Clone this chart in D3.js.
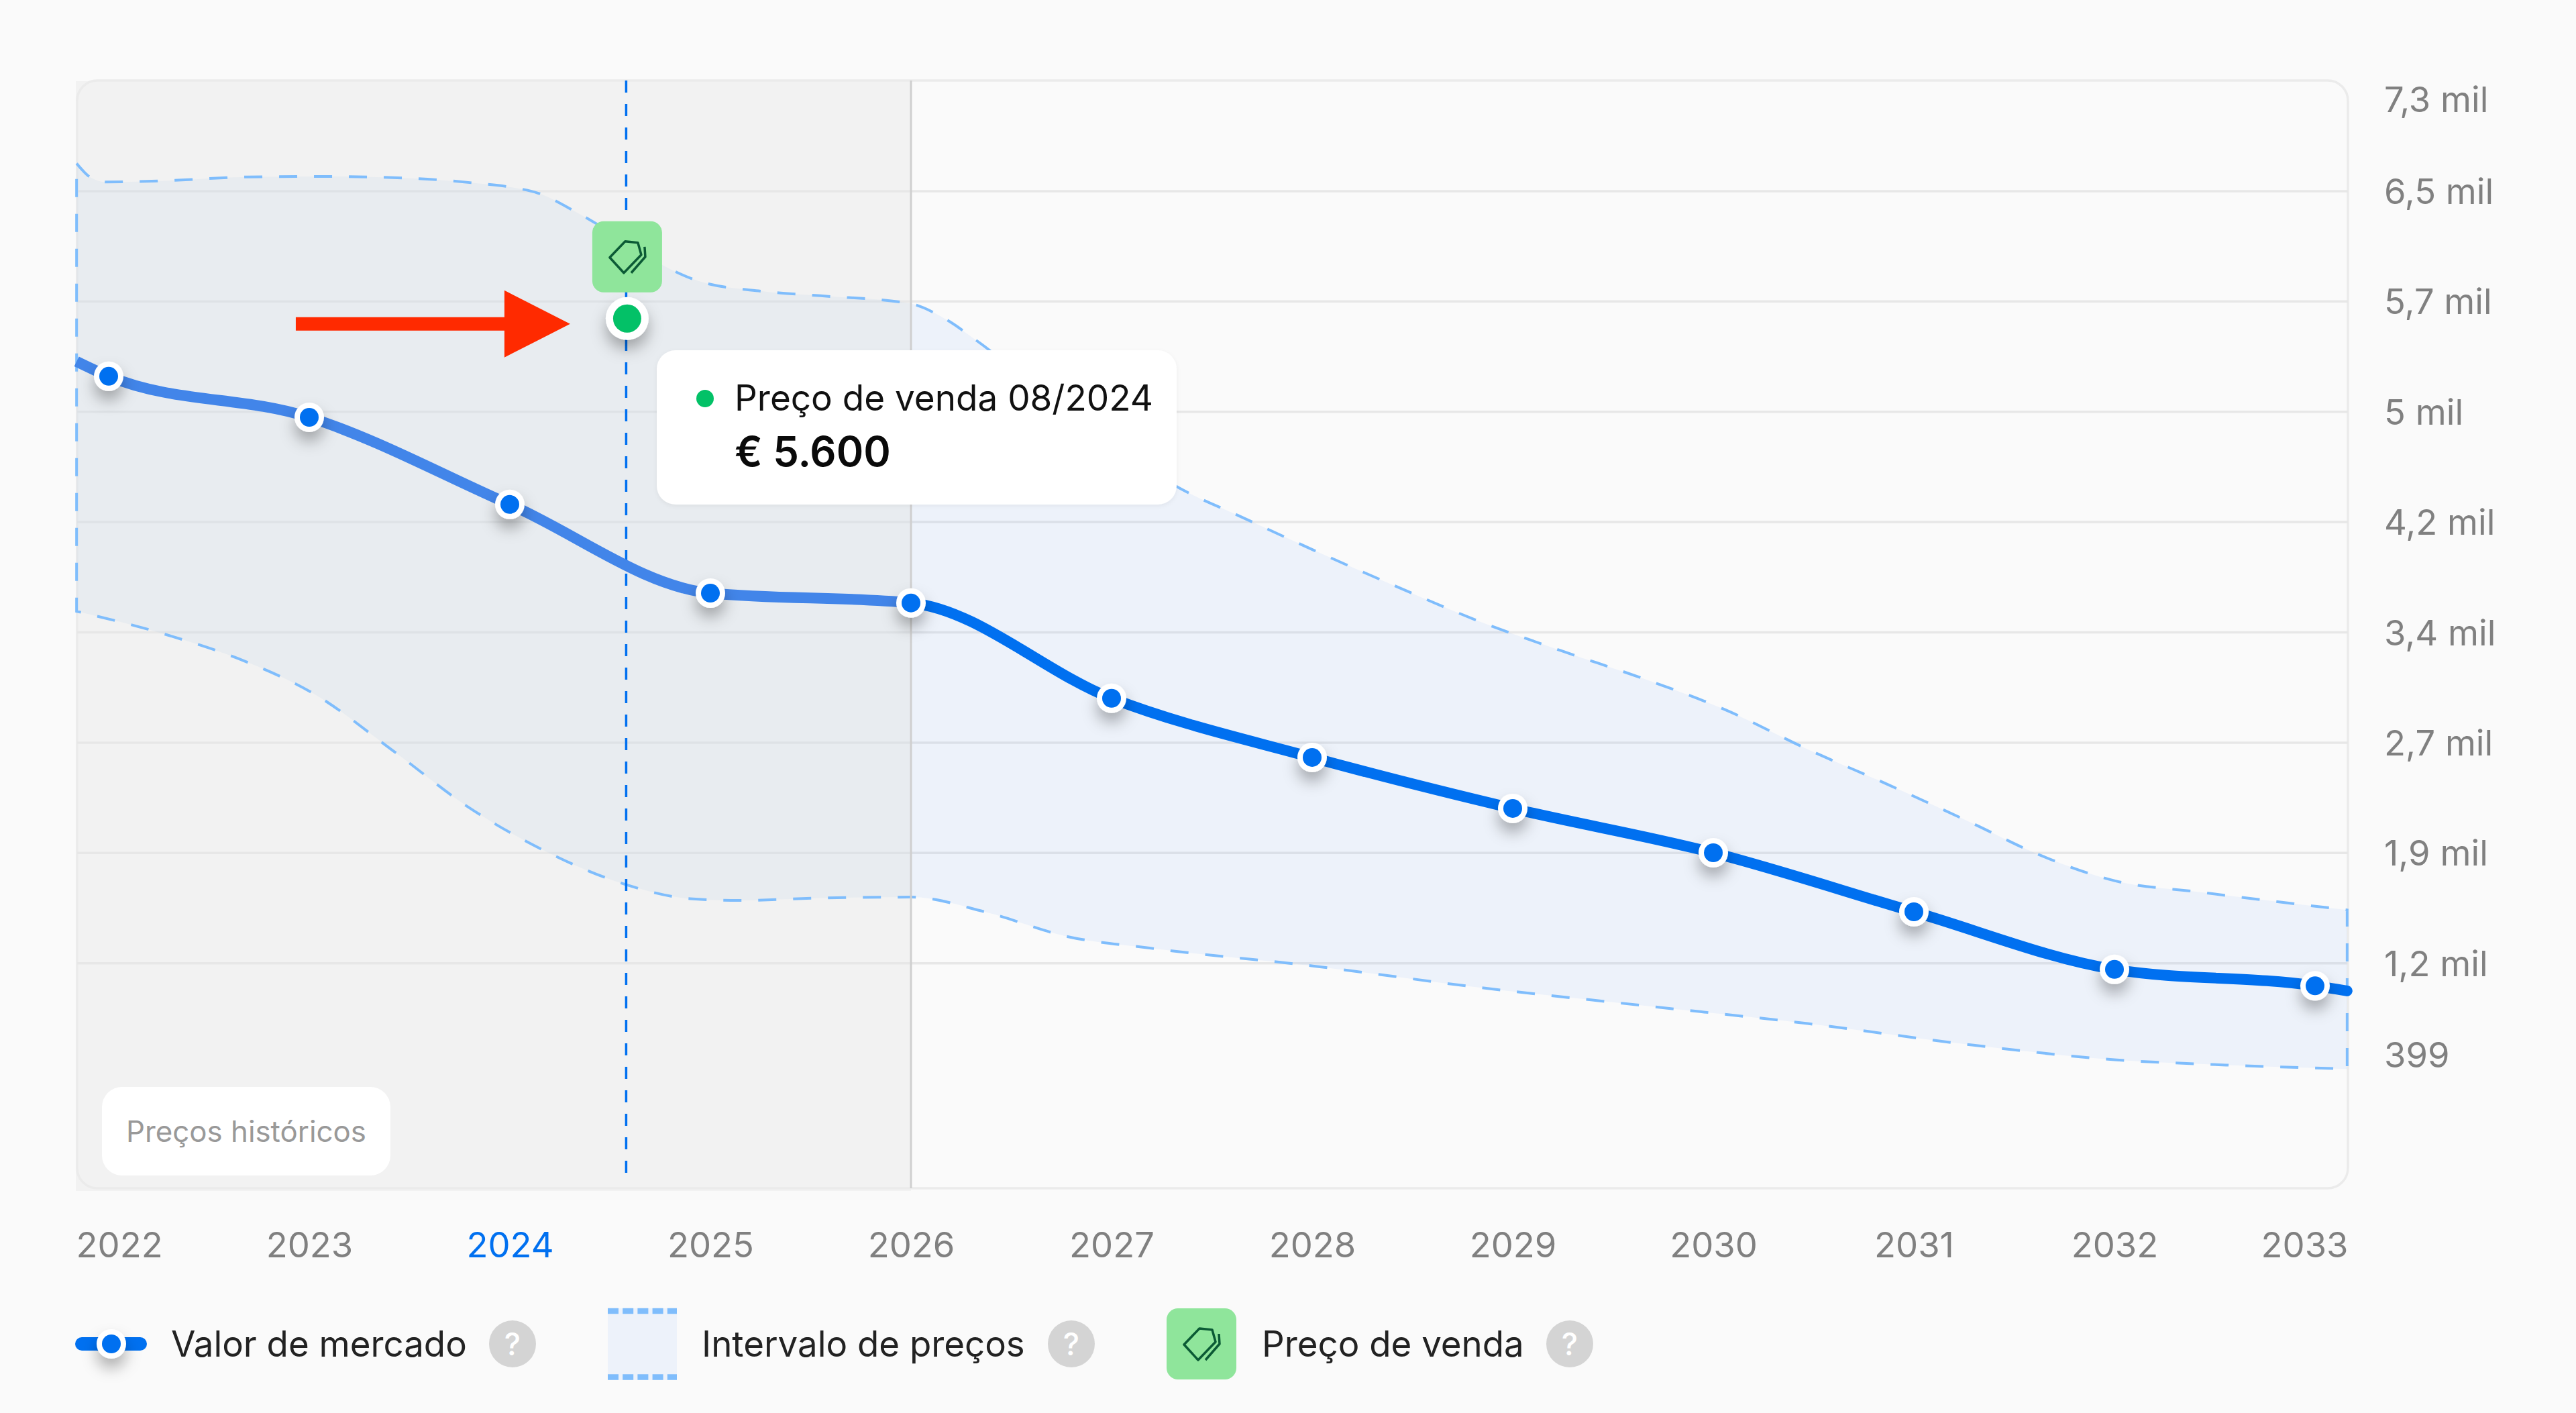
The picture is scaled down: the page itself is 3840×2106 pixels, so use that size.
<!DOCTYPE html>
<html><head><meta charset="utf-8">
<script src="https://cdn.jsdelivr.net/npm/d3@7/dist/d3.min.js"></script>
<style>
html,body{margin:0;padding:0;background:#fafafa;}
svg{display:block;font-family:Inter,"Noto Sans",sans-serif;}
</style></head><body>
<svg id="c" width="3840" height="2106" viewBox="0 0 3840 2106"></svg>
<script>
// ---- data ----
const years = [2022,2023,2024,2025,2026,2027,2028,2029,2030,2031,2032,2033];
const marketValues = [5239,4954,4349,3733,3665,3003,2592,2238,1930,1520,1120,1006];
const lineStart = [2021.84,5342];
const lineEnd = [2033.16,971];
const upperYears = [2021.84,2021.91,2021.99,2022.28,2022.69,2023.06,2023.51,2023.83,2024.01,2024.14,2024.33,2024.43,2024.59,2024.75,2024.94,2025.24,2025.55,2025.99,2026.17,2026.33,2026.78,2027.40,2027.60,2028.01,2028.42,2028.83,2029.24,2029.65,2030.06,2030.47,2030.88,2031.29,2031.62,2032.00,2032.43,2033.16];
const upperValues = [6717,6620,6588,6597,6623,6627,6614,6580,6551,6511,6380,6300,6163,6020,5901,5832,5798,5746,5638,5484,4977,4418,4292,4030,3779,3539,3334,3140,2923,2649,2398,2136,1919,1736,1656,1533];
const lowerYears = [2021.84,2022.28,2022.69,2023.02,2023.43,2023.79,2024.16,2024.57,2024.90,2025.14,2025.55,2026.00,2026.37,2026.78,2027.19,2028.01,2028.83,2029.65,2030.47,2031.29,2032.00,2032.52,2033.16];
const lowerValues = [3607,3448,3254,3037,2626,2250,1953,1713,1611,1599,1616,1622,1519,1348,1268,1143,995,869,744,595,493,458,429];
const yTicks = [399,1165,1931,2697,3463,4229,4995,5761,6527,7293];
const yLabels = ["399","1,2 mil","1,9 mil","2,7 mil","3,4 mil","4,2 mil","5 mil","5,7 mil","6,5 mil","7,3 mil"];
const highlightYear = 2024;
const historicEnd = 2026;
const saleYear = 2024.585;
const saleValue = 5640;
const tooltipTitle = "Preço de venda 08/2024";
const tooltipValue = "€ 5.600";
const historicLabel = "Preços históricos";
const legendNames = ["Valor de mercado","Intervalo de preços","Preço de venda"];

// ---- layout ----
const L=115,R=3500,T=120,B=1771;
const BLUE="#0070f0",BLUE_H="#4285e9",DASH="#7fbdfc",GREEN="#03c167",CHIP="#8fe59b",ICON="#0b5a35";
const x=d3.scaleLinear().domain([2022,2033]).range([162,3451]);
const y=d3.scaleLinear().domain([399,7293]).range([T+(7293-399)/766*164.4,T]);
const svg=d3.select("#c");
const defs=svg.append("defs");
const sh=defs.append("filter").attr("id","sh").attr("x","-150%").attr("y","-150%").attr("width","400%").attr("height","400%");
sh.append("feDropShadow").attr("dx",0).attr("dy",14).attr("stdDeviation",11).attr("flood-color","#000").attr("flood-opacity",.3);
const tsh=defs.append("filter").attr("id","tsh").attr("x","-10%").attr("y","-10%").attr("width","120%").attr("height","120%");
tsh.append("feDropShadow").attr("dx",0).attr("dy",2).attr("stdDeviation",3).attr("flood-color","#000").attr("flood-opacity",.06);
defs.append("clipPath").attr("id","hist").append("rect").attr("x",0).attr("y",0).attr("width",x(historicEnd)).attr("height",2106);
defs.append("clipPath").attr("id","fut").append("rect").attr("x",x(historicEnd)).attr("y",0).attr("width",3840).attr("height",2106);

svg.append("rect").attr("width",3840).attr("height",2106).attr("fill","#fafafa");
// historic background: the reference leaves its square corners visible behind the rounded frame
svg.append("rect").attr("x",113).attr("y",121).attr("width",x(historicEnd)-113).attr("height",1775-121).attr("fill","#f2f2f2");
svg.append("rect").attr("x",L).attr("y",T).attr("width",R-L).attr("height",B-T).attr("rx",30).attr("fill","none").attr("stroke","#ebebeb").attr("stroke-width",3.5);

// grid from the axis
const gridTicks=yTicks.slice(1,-1);
const grid=svg.append("g").attr("transform",`translate(${L},0)`).call(d3.axisRight(y).tickValues(gridTicks).tickSize(R-L).tickFormat(""));
grid.select(".domain").remove();
grid.selectAll("line").attr("stroke","#e7e7e7").attr("stroke-width",3.5);

// band
const upper=upperYears.map((t,i)=>[t,upperValues[i]]);
const lower=lowerYears.map((t,i)=>[t,lowerValues[i]]);
const edge=d3.line().x(d=>x(d[0])).y(d=>y(d[1])).curve(d3.curveMonotoneX);
const bandPath=edge(upper)+"L"+edge(lower.slice().reverse()).slice(1)+"Z";
svg.append("path").attr("d",bandPath).attr("fill","rgba(92,158,225,.06)").attr("clip-path","url(#hist)");
svg.append("path").attr("d",bandPath).attr("fill","rgba(33,117,250,.06)").attr("clip-path","url(#fut)");
svg.append("path").attr("d",bandPath).attr("fill","none").attr("stroke",DASH).attr("stroke-width",4).attr("stroke-dasharray","27 25");

// historic divider
svg.append("line").attr("x1",x(historicEnd)).attr("x2",x(historicEnd)).attr("y1",T).attr("y2",B).attr("stroke","#cfcfcf").attr("stroke-width",3);

// sale guide
svg.append("line").attr("x1",x(saleYear)-1.5).attr("x2",x(saleYear)-1.5).attr("y1",T).attr("y2",1760).attr("stroke",BLUE).attr("stroke-width",3.5).attr("stroke-dasharray","18 17");

// market line
const pts=[lineStart].concat(years.map((t,i)=>[t,marketValues[i]])).concat([lineEnd]);
const mLine=d3.line().x(d=>x(d[0])).y(d=>y(d[1])).curve(d3.curveMonotoneX);
svg.append("path").attr("d",mLine(pts)).attr("fill","none").attr("stroke",BLUE_H).attr("stroke-width",16).attr("clip-path","url(#hist)");
svg.append("path").attr("d",mLine(pts)).attr("fill","none").attr("stroke",BLUE).attr("stroke-width",16).attr("stroke-linecap","round").attr("clip-path","url(#fut)");

// market points
const dots=svg.append("g").selectAll("g").data(years.map((t,i)=>[t,marketValues[i]])).join("g")
  .attr("transform",d=>`translate(${x(d[0])},${y(d[1])})`);
dots.append("circle").attr("r",22).attr("fill","#fff").attr("filter","url(#sh)");
dots.append("circle").attr("r",14).attr("fill",BLUE);

// tag icon
const iconLine=d3.line();
function chip(g,cx,cy){
  g.append("rect").attr("x",cx-52).attr("y",cy-53).attr("width",104).attr("height",106).attr("rx",17).attr("fill",CHIP);
  const a=[[-3,-23],[16,-21],[21,-3],[-5,24],[-26,1]].map(p=>[cx+p[0],cy+p[1]]);
  const b=[[26,-15],[27,0],[6,24]].map(p=>[cx+p[0],cy+p[1]]);
  g.append("path").attr("d",iconLine(a)+"Z").attr("fill","none").attr("stroke",ICON).attr("stroke-width",3.5).attr("stroke-linejoin","round");
  g.append("path").attr("d",iconLine(b)).attr("fill","none").attr("stroke",ICON).attr("stroke-width",3.5).attr("stroke-linejoin","round");
}
const sx=x(saleYear), sy=y(saleValue);
chip(svg.append("g"),sx,sy-92);
svg.append("circle").attr("cx",sx).attr("cy",sy).attr("r",32).attr("fill","#fff").attr("filter","url(#sh)");
svg.append("circle").attr("cx",sx).attr("cy",sy).attr("r",21).attr("fill",GREEN);

// red arrow pointing at the sale
const ax=sx-85, ay=sy+8;
svg.append("path").attr("fill","#ff2a00").attr("d",d3.line()([[ax-409,ay-10],[ax-98,ay-10],[ax-98,ay-50],[ax,ay],[ax-98,ay+50],[ax-98,ay+10],[ax-409,ay+10]])+"Z");

// tooltip
const tt=svg.append("g");
tt.append("rect").attr("x",979).attr("y",522).attr("width",775).attr("height",230).attr("rx",28).attr("fill","#fff").attr("filter","url(#tsh)");
tt.append("circle").attr("cx",1051).attr("cy",594).attr("r",13).attr("fill",GREEN);
tt.append("text").attr("x",1095).attr("y",612).attr("font-size",53).attr("fill","#111").text(tooltipTitle);
tt.append("text").attr("x",1095).attr("y",695).attr("font-size",61.5).attr("font-weight",600).attr("fill","#0a0a0a").text(tooltipValue);

// historic label
const hl=svg.append("g");
hl.append("rect").attr("x",152).attr("y",1620).attr("width",430).attr("height",132).attr("rx",30).attr("fill","#fff");
hl.append("text").attr("x",367).attr("y",1702).attr("text-anchor","middle").attr("font-size",43.8).attr("fill","#999").text(historicLabel);

// x axis
const xAxis=svg.append("g").attr("transform","translate(0,1855)").call(d3.axisBottom(x).tickValues(years).tickSize(0).tickFormat(d3.format("d")));
xAxis.select(".domain").remove();
xAxis.selectAll("text").attr("dy",null).attr("y",0).attr("dominant-baseline","central")
  .attr("font-family","Inter").attr("font-size",52.5).attr("fill",d=>d===highlightYear?BLUE:"#808080")
  .attr("text-anchor",(d,i)=>i===0?"start":i===years.length-1?"end":"middle")
  .attr("x",(d,i)=>i===0?L-2-x(d):i===years.length-1?R-x(d):0);

// y axis
const yAxis=svg.append("g").attr("transform","translate(3554,0)").call(d3.axisRight(y).tickValues(yTicks).tickSize(0).tickFormat((d,i)=>yLabels[i]));
yAxis.select(".domain").remove();
yAxis.selectAll("text").attr("x",0).attr("dy",null).attr("dominant-baseline","central")
  .attr("font-family","Inter").attr("font-size",52.5).attr("fill","#808080")
  .attr("y",(d,i)=>i===0?-28:i===yTicks.length-1?27:0);

// legend
const lg=svg.append("g");
const LY=2003;
lg.append("rect").attr("x",112).attr("y",LY-10).attr("width",107).attr("height",20).attr("rx",10).attr("fill",BLUE);
lg.append("circle").attr("cx",166).attr("cy",LY).attr("r",22).attr("fill","#fff").attr("filter","url(#sh)");
lg.append("circle").attr("cx",166).attr("cy",LY).attr("r",14).attr("fill",BLUE);
lg.append("rect").attr("x",906).attr("y",1950).attr("width",103).attr("height",107).attr("fill","#edf2fa");
[1954,2052.5].forEach(v=>lg.append("line").attr("x1",906).attr("x2",1009).attr("y1",v).attr("y2",v).attr("stroke",DASH).attr("stroke-width",8.5).attr("stroke-dasharray","16 6.2").attr("stroke-dashoffset",0));
chip(lg.append("g"),1791,LY);
const legendX=[255,1046,1881];
const helpX=[764,1597,2340];
legendNames.forEach((n,i)=>{
  lg.append("text").attr("x",legendX[i]).attr("y",LY).attr("dominant-baseline","central").attr("font-size",52.8).attr("fill","#222").text(n);
  lg.append("circle").attr("cx",helpX[i]).attr("cy",LY).attr("r",35).attr("fill","#d4d4d4");
  lg.append("text").attr("x",helpX[i]).attr("y",LY).attr("text-anchor","middle").attr("dominant-baseline","central").attr("font-size",46).attr("font-weight",500).attr("fill","#fff").text("?");
});
</script>
</body></html>
